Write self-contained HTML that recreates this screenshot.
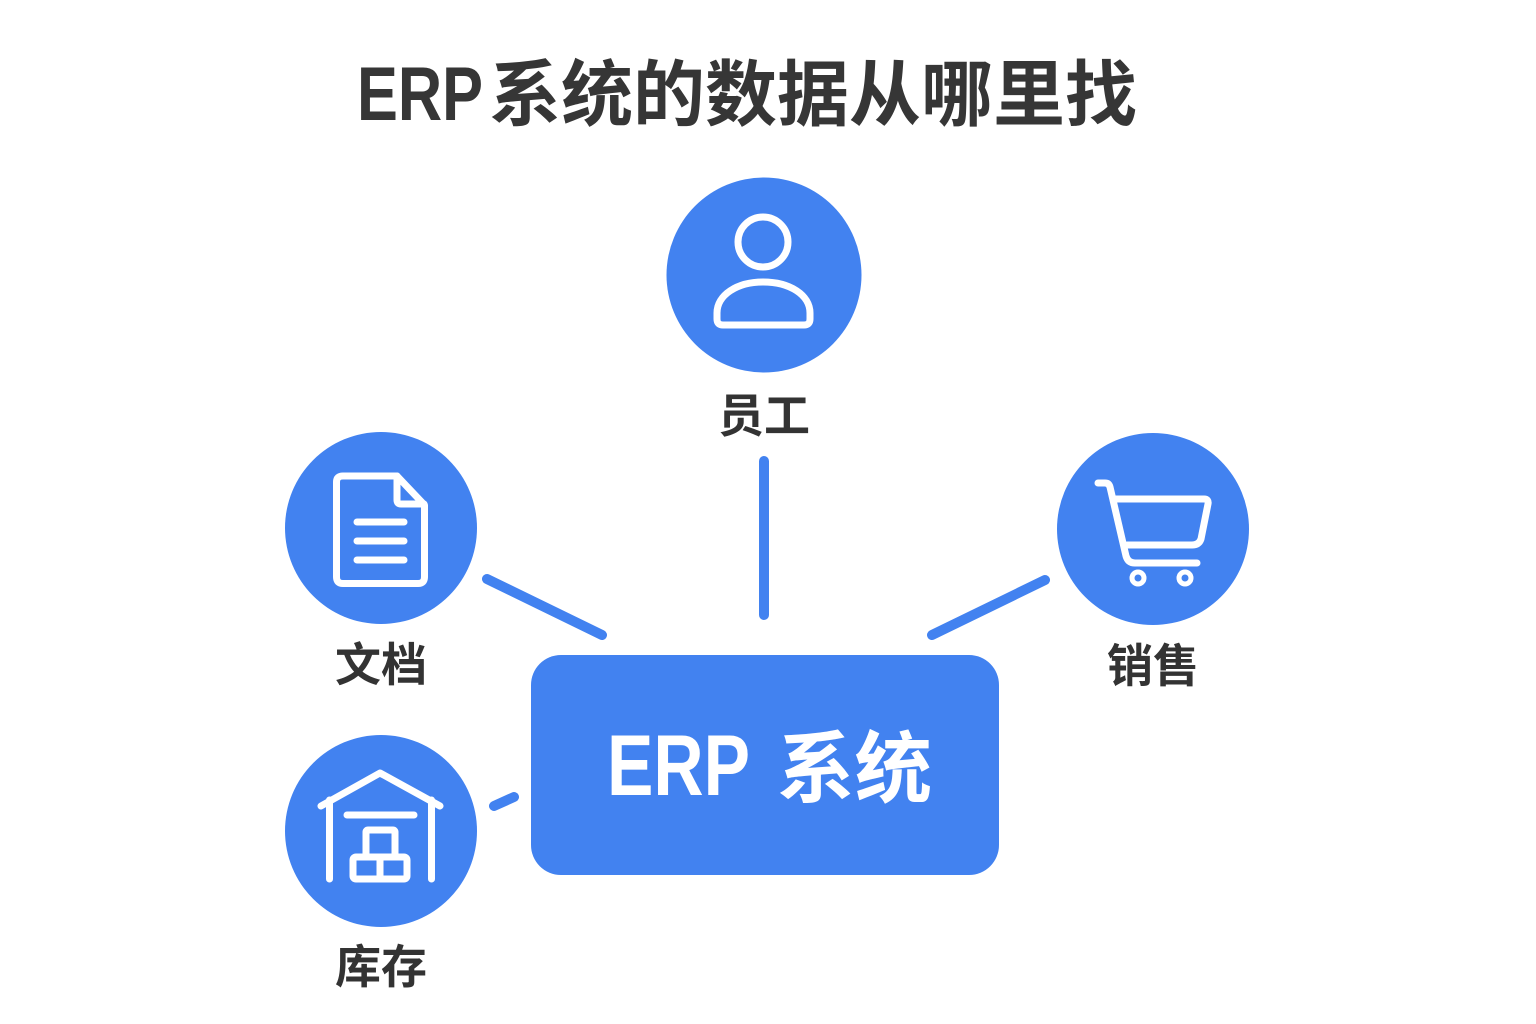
<!DOCTYPE html>
<html>
<head>
<meta charset="utf-8">
<style>
  html, body { margin:0; padding:0; background:#ffffff; }
  body { width:1536px; height:1024px; overflow:hidden; }
  svg { display:block; }
  .lab { font-family:"Liberation Sans","Noto Sans CJK SC",sans-serif; font-weight:700; fill:#333333; font-size:46px; }
  .cjk { font-family:"Noto Sans CJK SC",sans-serif; }
</style>
</head>
<body>
<svg width="1536" height="1024" viewBox="0 0 1536 1024" xmlns="http://www.w3.org/2000/svg">
  <rect width="1536" height="1024" fill="#ffffff"/>

  <!-- Title -->
  <text x="357" y="120" font-family="Liberation Sans, sans-serif" font-weight="700" font-size="76" fill="#363636" textLength="126" lengthAdjust="spacingAndGlyphs">ERP</text>
  <text x="489" y="120" font-family="Liberation Sans, Noto Sans CJK SC, sans-serif" font-weight="700" font-size="72" fill="#363636" textLength="648" lengthAdjust="spacingAndGlyphs">系统的数据从哪里找</text>

  <!-- Connectors -->
  <g stroke="#4282F0" stroke-width="10" stroke-linecap="round" fill="none">
    <line x1="764" y1="461" x2="764" y2="615"/>
    <line x1="487" y1="579" x2="602" y2="635"/>
    <line x1="1045" y1="580" x2="932" y2="635"/>
    <line x1="494" y1="806" x2="514" y2="797"/>
  </g>

  <!-- Center box -->
  <rect x="531" y="655" width="468" height="220" rx="30" ry="30" fill="#4282F0"/>
  <text x="607" y="795" font-family="Liberation Sans, sans-serif" font-weight="700" font-size="86" fill="#ffffff" textLength="143" lengthAdjust="spacingAndGlyphs">ERP</text>
  <text x="777" y="796" font-family="Liberation Sans, Noto Sans CJK SC, sans-serif" font-weight="700" font-size="78" fill="#ffffff" textLength="155" lengthAdjust="spacingAndGlyphs">系统</text>

  <!-- Circles -->
  <circle cx="764" cy="275" r="97.5" fill="#4282F0"/>
  <circle cx="381" cy="528" r="96" fill="#4282F0"/>
  <circle cx="1153" cy="529" r="96" fill="#4282F0"/>
  <circle cx="381" cy="831" r="96" fill="#4282F0"/>

  <!-- Person icon -->
  <g stroke="#ffffff" stroke-width="7" fill="none" stroke-linejoin="round" stroke-linecap="round">
    <circle cx="763" cy="242" r="25"/>
    <path d="M723 325 H804 Q810 325 810 319 V313 C810 295 790 282 763 282 C737 282 717 295 717 313 V319 Q717 325 723 325 Z"/>
  </g>

  <!-- Document icon -->
  <g stroke="#ffffff" stroke-width="7" fill="none" stroke-linejoin="round" stroke-linecap="round">
    <path d="M343 476 H397 L424.5 505 V577 Q424.5 583.5 418 583.5 H343 Q336.5 583.5 336.5 577 V482 Q336.5 476 343 476 Z"/>
    <path d="M397 476 V500 Q397 504 401 504 H424"/>
    <line x1="357" y1="522" x2="404" y2="522"/>
    <line x1="357" y1="541" x2="404" y2="541"/>
    <line x1="357" y1="560" x2="404" y2="560"/>
  </g>

  <!-- Cart icon -->
  <g stroke="#ffffff" stroke-width="7" fill="none" stroke-linejoin="round" stroke-linecap="round">
    <path d="M1098 483 H1105 Q1109 483 1110 487 L1126 556 Q1128 563 1135 563 H1197"/>
    <path d="M1115 499 H1204 Q1209 499 1208 504 L1201 539 Q1199 545 1192 545 H1127"/>
  </g>
  <g stroke="#ffffff" stroke-width="5" fill="none">
    <circle cx="1138" cy="578" r="6"/>
    <circle cx="1185" cy="578" r="6"/>
  </g>

  <!-- Warehouse icon -->
  <g stroke="#ffffff" stroke-width="7" fill="none" stroke-linejoin="round" stroke-linecap="round">
    <path d="M321 806 L380 773 L440 806"/>
    <line x1="329.5" y1="800" x2="329.5" y2="879"/>
    <line x1="431.5" y1="800" x2="431.5" y2="879"/>
    <line x1="347" y1="815" x2="414" y2="815"/>
    <rect x="366" y="830" width="29" height="27" rx="2"/>
    <rect x="353" y="857" width="54" height="22" rx="3"/>
    <line x1="380" y1="857" x2="380" y2="879"/>
  </g>

  <!-- Labels -->
  <text class="lab" x="764" y="432" text-anchor="middle">员工</text>
  <text class="lab" x="381" y="681" text-anchor="middle">文档</text>
  <text class="lab" x="1153" y="682" text-anchor="middle">销售</text>
  <text class="lab" x="381" y="983" text-anchor="middle">库存</text>
</svg>
</body>
</html>
